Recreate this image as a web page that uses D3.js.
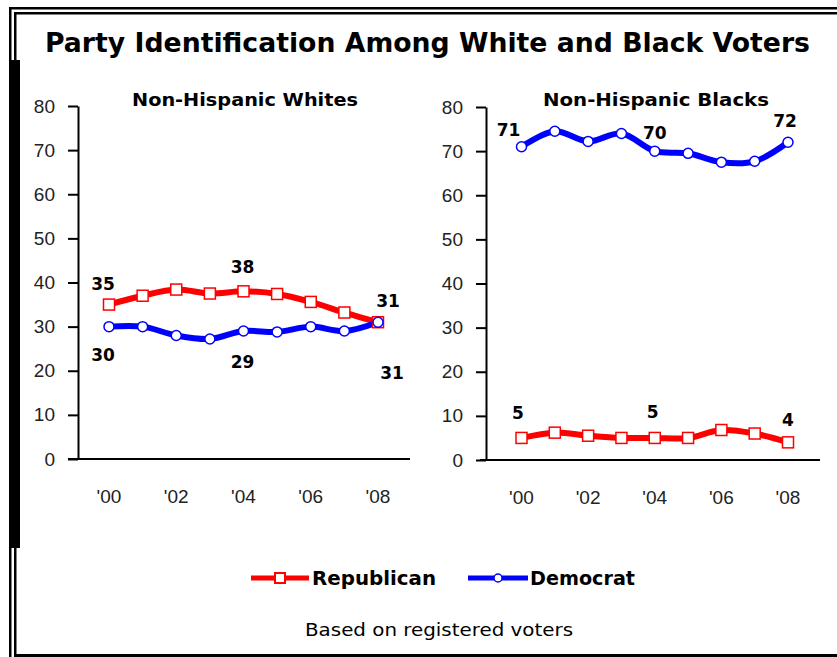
<!DOCTYPE html>
<html>
<head>
<meta charset="utf-8">
<script src="https://cdn.jsdelivr.net/npm/d3@7"></script>
<style>
  html, body { margin: 0; padding: 0; background: #fff; }
  svg { display: block; }
</style>
</head>
<body>
<script>
// Party identification by year, registered voters (percent)
const years = [2000, 2001, 2002, 2003, 2004, 2005, 2006, 2007, 2008];
const tickYears = [2000, 2002, 2004, 2006, 2008];
const tickYearLabels = ["'00", "'02", "'04", "'06", "'08"];
const yTicks = [0, 10, 20, 30, 40, 50, 60, 70, 80];

const whitesRep = [35, 37, 38.4, 37.5, 38, 37.4, 35.6, 33.2, 31];
const whitesDem = [30, 30, 28, 27.2, 29, 28.8, 30, 29, 31];
const blacksRep = [5, 6.2, 5.5, 5, 5, 5, 6.8, 6, 4];
const blacksDem = [71, 74.5, 72.2, 74, 70, 69.5, 67.5, 67.7, 72];

const panelTitles = ["Non-Hispanic Whites", "Non-Hispanic Blacks"];
const seriesNames = ["Republican", "Democrat"];
const seriesColors = ["#ff0000", "#0000ff"];

// which points carry a value label, and where the label sits relative to the point
const whitesRepLabels = [{i: 0, dx: -6, dy: -15}, {i: 4, dx: -1, dy: -18}, {i: 8, dx: 10, dy: -15}];
const whitesDemLabels = [{i: 0, dx: -6, dy: 34}, {i: 4, dx: -1, dy: 37}, {i: 8, dx: 14, dy: 57}];
const blacksRepLabels = [{i: 0, dx: -3.5, dy: -19}, {i: 4, dx: -2, dy: -20}, {i: 8, dx: 0, dy: -16}];
const blacksDemLabels = [{i: 0, dx: -13, dy: -11}, {i: 4, dx: 0, dy: -12}, {i: 8, dx: -3, dy: -15}];

const W = 837, H = 657;
const svg = d3.select("body").append("svg").attr("width", W).attr("height", H);

// frame: double rule at top and left, heavy bar down the left edge
const frame = svg.append("g").attr("fill", "#000");
frame.append("rect").attr("x", 9).attr("y", 7).attr("width", W - 9).attr("height", 2.5);
frame.append("rect").attr("x", 14).attr("y", 12).attr("width", W - 14).attr("height", 2.5);
frame.append("rect").attr("x", 9).attr("y", 7).attr("width", 2.5).attr("height", H - 7);
frame.append("rect").attr("x", 14).attr("y", 12).attr("width", 2.5).attr("height", H - 14);
frame.append("rect").attr("x", 9).attr("y", 60).attr("width", 11).attr("height", 488);
frame.append("rect").attr("x", 14).attr("y", 654).attr("width", W - 14).attr("height", 3);

// title
svg.append("text")
  .attr("x", 45).attr("y", 52)
  .attr("textLength", 765).attr("lengthAdjust", "spacingAndGlyphs")
  .style("font-family", "'DejaVu Sans', sans-serif")
  .style("font-weight", "bold").style("font-size", "27px")
  .attr("fill", "#000")
  .text("Party Identification Among White and Black Voters");

const panels = [
  {title: panelTitles[0], xr: [109, 378], yr: [459, 106], axisX: 78, xAxis: [68, 410], titleX: 245,
   rep: whitesRep, dem: whitesDem, repLab: whitesRepLabels, demLab: whitesDemLabels},
  {title: panelTitles[1], xr: [521.5, 788], yr: [460, 107], axisX: 486, xAxis: [480, 820], titleX: 656,
   rep: blacksRep, dem: blacksDem, repLab: blacksRepLabels, demLab: blacksDemLabels}
];

panels.forEach(p => {
  const x = d3.scaleLinear().domain([2000, 2008]).range(p.xr);
  const y = d3.scaleLinear().domain([0, 80]).range(p.yr);
  const g = svg.append("g");

  g.append("text")
    .attr("x", p.titleX).attr("y", 106)
    .attr("text-anchor", "middle")
    .attr("textLength", 226).attr("lengthAdjust", "spacingAndGlyphs")
    .style("font-family", "'DejaVu Sans', sans-serif")
    .style("font-weight", "bold").style("font-size", "17px")
    .text(p.title);

  // value axis
  const ya = g.append("g")
    .attr("transform", `translate(${p.axisX},0)`)
    .call(d3.axisLeft(y).tickValues(yTicks).tickSize(10).tickSizeOuter(0).tickPadding(13));
  ya.select(".domain").attr("stroke", "#000").attr("stroke-width", 2);
  ya.selectAll(".tick line").attr("stroke", "#000").attr("stroke-width", 2);
  ya.selectAll(".tick text")
    .style("font-family", "'Liberation Sans', Arial, sans-serif")
    .style("font-size", "19px").attr("fill", "#222");

  // year axis: plain rule with labels below
  g.append("line")
    .attr("x1", p.xAxis[0]).attr("x2", p.xAxis[1])
    .attr("y1", y(0)).attr("y2", y(0))
    .attr("stroke", "#000").attr("stroke-width", 2);
  g.selectAll(".yr").data(tickYears).join("text")
    .attr("x", d => x(d)).attr("y", y(0) + 44)
    .attr("text-anchor", "middle")
    .style("font-family", "'Liberation Sans', Arial, sans-serif")
    .style("font-size", "19px").attr("fill", "#222")
    .text((d, i) => tickYearLabels[i]);

  const line = d3.line().x((d, i) => x(years[i])).y(d => y(d)).curve(d3.curveCatmullRom.alpha(0.5));

  [[p.rep, 0], [p.dem, 1]].forEach(([vals, s]) => {
    g.append("path").datum(vals)
      .attr("d", line).attr("fill", "none")
      .attr("stroke", seriesColors[s]).attr("stroke-width", 6)
      .attr("stroke-linejoin", "round");
  });

  // markers
  g.selectAll(".rm").data(p.rep).join("rect")
    .attr("x", (d, i) => x(years[i]) - 5.5).attr("y", d => y(d) - 5.5)
    .attr("width", 11).attr("height", 11)
    .attr("fill", "#fff").attr("stroke", seriesColors[0]).attr("stroke-width", 1.5);
  g.selectAll(".dm").data(p.dem).join("circle")
    .attr("cx", (d, i) => x(years[i])).attr("cy", d => y(d)).attr("r", 5)
    .attr("fill", "#fff").attr("stroke", seriesColors[1]).attr("stroke-width", 1.5);

  // value labels
  const labelStyle = sel => sel
    .attr("text-anchor", "middle")
    .style("font-family", "'DejaVu Sans', sans-serif")
    .style("font-weight", "bold").style("font-size", "17px")
    .attr("fill", "#000");
  [[p.rep, p.repLab], [p.dem, p.demLab]].forEach(([vals, labs]) => {
    g.selectAll(null).data(labs).join("text")
      .attr("x", d => x(years[d.i]) + d.dx)
      .attr("y", d => y(vals[d.i]) + d.dy)
      .call(labelStyle)
      .text(d => d3.format("d")(vals[d.i]));
  });
});

// legend
const lg = svg.append("g");
const legendItems = [
  {x0: 251, x1: 309, name: seriesNames[0], tx: 312, len: 124, c: seriesColors[0], marker: "square"},
  {x0: 468, x1: 528, name: seriesNames[1], tx: 530, len: 105, c: seriesColors[1], marker: "circle"}
];
legendItems.forEach(it => {
  lg.append("line").attr("x1", it.x0).attr("x2", it.x1).attr("y1", 578).attr("y2", 578)
    .attr("stroke", it.c).attr("stroke-width", 5);
  const cx = (it.x0 + it.x1) / 2;
  if (it.marker === "square") {
    lg.append("rect").attr("x", cx - 5).attr("y", 573).attr("width", 10).attr("height", 10)
      .attr("fill", "#fff").attr("stroke", it.c).attr("stroke-width", 2);
  } else {
    lg.append("circle").attr("cx", cx).attr("cy", 578).attr("r", 4)
      .attr("fill", "#fff").attr("stroke", it.c).attr("stroke-width", 1.5);
  }
  lg.append("text").attr("x", it.tx).attr("y", 585)
    .attr("textLength", it.len).attr("lengthAdjust", "spacingAndGlyphs")
    .style("font-family", "'DejaVu Sans', sans-serif")
    .style("font-weight", "bold").style("font-size", "19px")
    .text(it.name);
});

svg.append("text")
  .attr("x", 439).attr("y", 636).attr("text-anchor", "middle")
  .attr("textLength", 268).attr("lengthAdjust", "spacingAndGlyphs")
  .style("font-family", "'DejaVu Sans', sans-serif")
  .style("font-size", "18px")
  .text("Based on registered voters");
</script>
</body>
</html>
